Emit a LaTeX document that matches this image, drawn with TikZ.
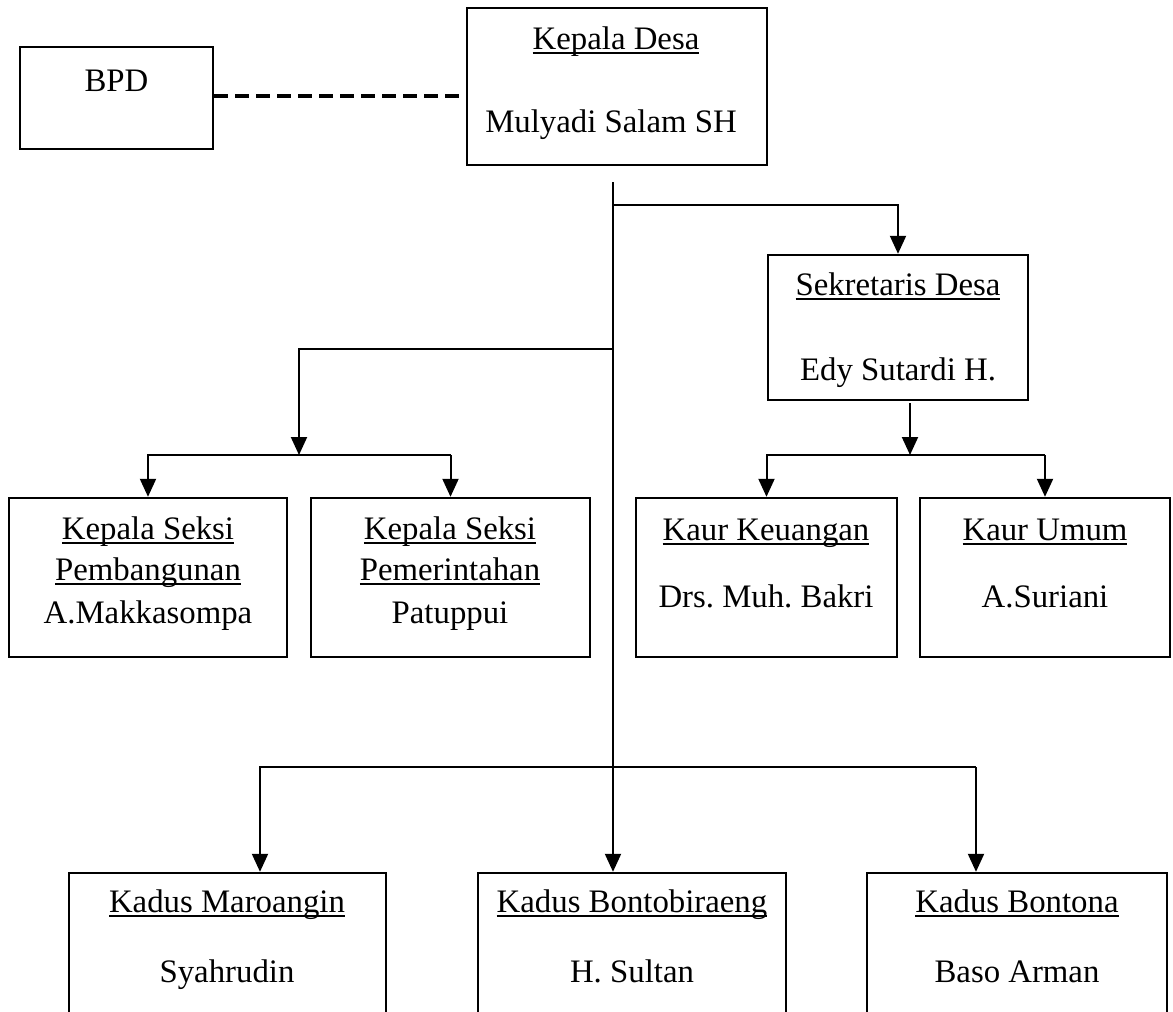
\documentclass[tikz,border=0pt]{standalone}
\usepackage{fontspec}
\setmainfont{Liberation Serif}
\usetikzlibrary{arrows.meta}
\frenchspacing
\newcommand{\ulin}[1]{\leavevmode\setbox0\hbox{#1}\rlap{\vrule width\wd0 height -1.7pt depth 2.7pt}\box0}

\begin{document}
\begin{tikzpicture}[x=0.5pt,y=-0.5pt,
  box/.style={draw, line width=1.2pt, inner sep=0pt},
  txt/.style={anchor=base, inner sep=0pt, font=\fontsize{16.4}{19}\selectfont},
  link/.style={line width=1pt},
  arr/.style={line width=1pt, -{Triangle[length=9pt,width=8pt]}}]

\clip (0,0) rectangle (1173,1012);

% boxes
\node [box, minimum width=96.5pt, minimum height=51pt] (bpd) at (116.5,98) {};
\node [box, minimum width=150pt, minimum height=78.5pt] (kades) at (617,86.5) {};
\node [box, minimum width=130pt, minimum height=72.5pt] (sekdes) at (898,327.5) {};
\node [box, minimum width=139pt, minimum height=79.5pt] (kasi1) at (148,577.5) {};
\node [box, minimum width=139.5pt, minimum height=79.5pt] (kasi2) at (450.5,577.5) {};
\node [box, minimum width=130.5pt, minimum height=79.5pt] (kaur1) at (766.5,577.5) {};
\node [box, minimum width=125pt, minimum height=79.5pt] (kaur2) at (1045,577.5) {};
\node [box, minimum width=158.5pt, minimum height=100pt] (kadus1) at (227.5,973) {};
\node [box, minimum width=154pt, minimum height=100pt] (kadus2) at (632,973) {};
\node [box, minimum width=150pt, minimum height=100pt] (kadus3) at (1017,973) {};

% texts
\node [txt] (bpd-t) at (116.5,91) {BPD};
\node [txt] (kades-t) at (616,49) {\ulin{Kepala Desa}};
\node [txt] (kades-n) at (611,132) {Mulyadi Salam SH};
\node [txt] (sekdes-t) at (898,295) {\ulin{Sekretaris Desa}};
\node [txt] (sekdes-n) at (898,380) {Edy Sutardi H.};
\node [txt] (kasi1-a) at (148,539) {\ulin{Kepala Seksi}};
\node [txt] (kasi1-b) at (148,580) {\ulin{Pembangunan}};
\node [txt] (kasi1-n) at (148,623) {A.Makkasompa};
\node [txt] (kasi2-a) at (450,539) {\ulin{Kepala Seksi}};
\node [txt] (kasi2-b) at (450,580) {\ulin{Pemerintahan}};
\node [txt] (kasi2-n) at (450,623) {Patuppui};
\node [txt] (kaur1-t) at (766,540) {\ulin{Kaur Keuangan}};
\node [txt] (kaur1-n) at (766,607) {Drs. Muh. Bakri};
\node [txt] (kaur2-t) at (1045,540) {\ulin{Kaur Umum}};
\node [txt] (kaur2-n) at (1045,607) {A.Suriani};
\node [txt] (kadus1-t) at (227,912) {\ulin{Kadus Maroangin}};
\node [txt] (kadus1-n) at (227,982) {Syahrudin};
\node [txt] (kadus2-t) at (632,912) {\ulin{Kadus Bontobiraeng}};
\node [txt] (kadus2-n) at (632,982) {H. Sultan};
\node [txt] (kadus3-t) at (1017,912) {\ulin{Kadus Bontona}};
\node [txt] (kadus3-n) at (1017,982) {Baso Arman};

% junctions
\coordinate (top) at (613,182);
\coordinate (jsek) at (613,205);
\coordinate (jkasi) at (613,349);
\coordinate (kasibar) at (299,455);
\coordinate (sekout) at (910,403);
\coordinate (sekbar) at (910,455);
\coordinate (kdl) at (260,767);
\coordinate (kdr) at (976,767);

\draw [link, line width=1.6pt, dash pattern=on 7pt off 3.5pt] (bpd.east |- 0,96) -- (kades.west |- 0,96);

\draw [arr] (top) -- (top |- kadus2.north);
\draw [arr] (jsek) -| (sekdes.north);
\draw [arr] (jkasi) -| (kasibar);

\draw [arr] (kasi2.north |- kasibar) -| (kasi1.north);
\draw [arr] (kasi2.north |- kasibar) -- (kasi2.north);

\draw [arr] (sekout) -- (sekbar);
\draw [arr] (kaur2.north |- sekbar) -| (kaur1.north);
\draw [arr] (kaur2.north |- sekbar) -- (kaur2.north);

\draw [arr] (kdr) -| (kdl |- kadus1.north);
\draw [arr] (kdr) -- (kdr |- kadus3.north);

\end{tikzpicture}
\end{document}
